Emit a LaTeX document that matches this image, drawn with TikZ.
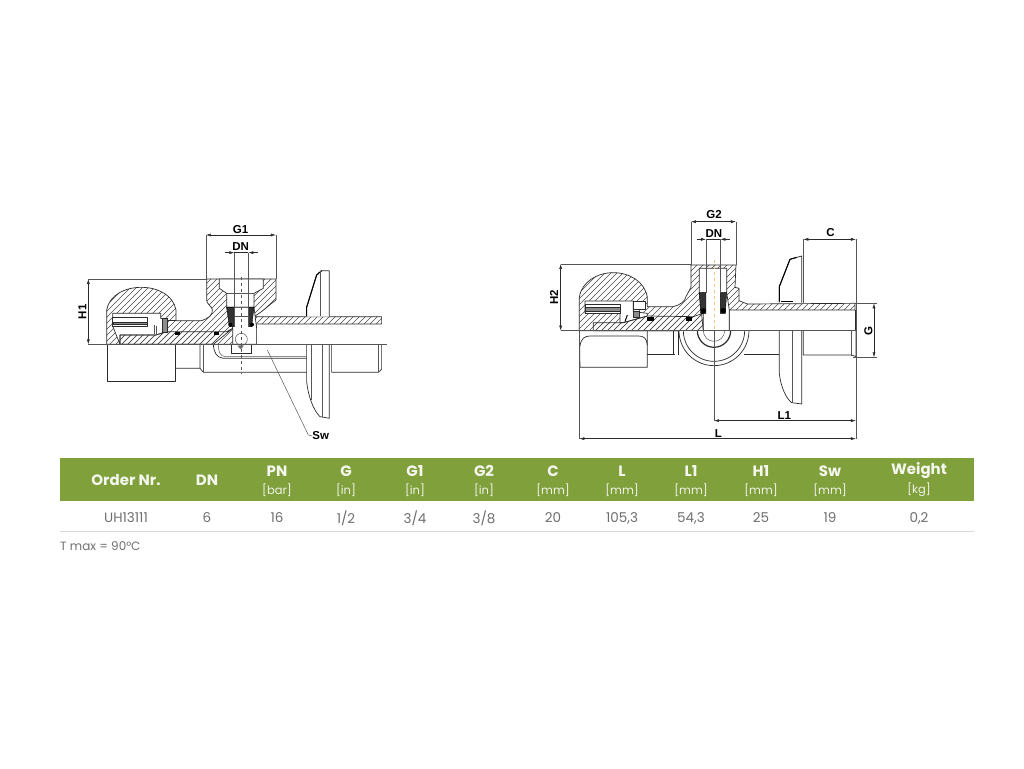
\documentclass[tikz,border=0pt]{standalone}
\usepackage{fontspec}
\setmainfont{Poppins}
\newfontfamily\drawfont{Liberation Sans}
\usetikzlibrary{arrows.meta}
\definecolor{headgreen}{HTML}{7FA03B}
\definecolor{rowgrey}{HTML}{6E6E6E}
\definecolor{inkgrey}{HTML}{2B2B2B}
\tikzset{
	zoomleft/.style={shift={(50,200)}, x=0.3333pt, y=-0.3333pt},
	zoomright/.style={shift={(540,200)}, x=0.3333pt, y=-0.3333pt},
	outline/.style={draw=inkgrey, line width=0.7pt, line join=round},
	hatchline/.style={draw=inkgrey!85, line width=0.5pt},
	cutout/.style={outline, fill=white},
	sealpart/.style={draw=black, fill=black!80},
	greypart/.style={draw=inkgrey, fill=black!45, line width=0.3pt},
	thinline/.style={draw=inkgrey!80, line width=0.5pt},
	dimline/.style={draw=inkgrey, line width=0.5pt, {Latex[length=5pt, width=3pt]}-{Latex[length=5pt, width=3pt]}},
	oneway/.style={draw=inkgrey, line width=0.5pt, -{Latex[length=5pt, width=3pt]}},
	dimlabel/.style={font=\drawfont\bfseries\fontsize{11.5}{13}\selectfont, text=black, inner sep=0pt},
	headmain/.style={font=\bfseries\fontsize{15}{17}\selectfont, text=white!92!headgreen, inner sep=0pt},
	headunit/.style={font=\fontsize{11.5}{13}\selectfont, text=white!88!headgreen, inner sep=0pt},
	rowvalue/.style={font=\fontsize{13.5}{15}\selectfont, text=rowgrey, inner sep=0pt},
}
\newcommand{\hatchshape}[1]{%
	\begin{scope}
		\clip #1;
		\foreach \k in {-800,-782,...,1100}
			\draw[hatchline] (\k,800) -- (\k+800,0);
	\end{scope}
	\draw[outline] #1;
}
\begin{document}
\begin{tikzpicture}[x=1pt, y=-1pt]
	\useasboundingbox (0,0) rectangle (1024,768);
	% left valve
	\begin{scope}[zoomleft]
		\hatchshape{(170,433) -- (170,330) .. controls (178,285) and (225,262) .. (274,262) .. controls (323,262) and (370,285) .. (378,330) -- (378,362) -- (455,362) .. controls (475,355) and (490,345) .. (487,328) .. controls (482,315) and (470,312) .. (470,300) -- (470,237) -- (678,237) -- (678,300) .. controls (660,312) and (645,330) .. (612,350) -- (995,350) -- (995,372) -- (620,372) -- (620,433) -- cycle}
		\draw[cutout] (508,237) -- (640,237) -- (640,265) -- (612,280) -- (612,322) -- (530,322) -- (530,280) -- (508,265) -- cycle;
		\draw[cutout] (548,385) -- (530,322) -- (612,322) -- (620,385) -- (620,433) -- (548,433) -- cycle;
		\draw[thinline] (530,280) -- (612,280);
		\draw[cutout] (188,340) -- (332,340) -- (332,355) -- (350,362) -- (350,395) -- (318,405) -- (210,405) -- (210,433) -- (188,378) -- cycle;
		\hatchshape{(210,433) -- (210,405) -- (318,405) -- (350,395) -- (530,395) -- (548,385) -- (490,433) -- cycle}
		\draw[outline] (350,362) -- (378,362);
		\draw[cutout] (188,352) rectangle (292,378);
		\fill[greypart] (188,365) rectangle (292,372);
		\fill[greypart] (335,355) rectangle (350,395);
		\draw[thinline] (312,375) -- (312,402) (318,378) -- (318,402);
		\draw[sealpart] (530,322) -- (552,322) -- (552,380) -- (538,380) -- cycle;
		\draw[sealpart] (612,322) -- (595,322) -- (595,380) -- (605,380) -- cycle;
		\fill[black] (541,374) circle (6) (606,374) circle (6);
		\fill[black] (376,395) rectangle (391,406);
		\fill[black] (491,395) rectangle (506,406);
		\draw[thinline] (553,322) -- (553,380) (595,322) -- (595,380) (553,350) -- (595,350);
		\draw[thinline] (574,418) circle (18);
		% lower half
		\draw[outline] (172,433) -- (172,545) -- (376,545) -- (376,433);
		\draw[outline] (378,505) -- (450,505) (450,433) -- (450,505) -- (460,517) -- (770,517);
		\draw[thinline] (460,433) -- (460,517);
		\draw[outline] (490,433) .. controls (492,460) and (500,472) .. (520,475) -- (770,475);
		\draw[thinline] (505,433) .. controls (505,455) and (510,468) .. (525,470) -- (770,470);
		\draw[outline] (545,433) -- (545,460) -- (603,460) -- (603,433);
		\fill[inkgrey!70] (562,437) -- (582,437) -- (572,448) -- cycle;
		\draw[outline] (770,433) -- (770,545) .. controls (775,590) and (790,630) .. (810,650) -- (838,655) -- (838,433);
		\draw[thinline] (785,433) -- (785,600) (818,433) -- (818,650);
		\draw[outline] (845,433) -- (845,517) -- (985,517) -- (995,508) -- (995,433);
		\draw[thinline] (985,433) -- (985,517);
		% plate above the tube
		\draw[outline, fill=white] (770,350) -- (770,322) -- (800,225) -- (815,212) -- (838,212) -- (838,350);
		\draw[black, line width=1.1pt] (770,348) -- (770,322) -- (800,225) -- (815,212);
		\draw[thinline] (810,214) -- (810,348);
		% axes
		\coordinate (leftaxisstart) at (115,433);
		\coordinate (leftaxisend) at (1010,433);
		\draw[thinline] (leftaxisstart) -- (leftaxisend);
		\draw[thinline, dashed] (574,230) -- (574,522);
		% dimensions
		\coordinate (g1a) at (468,105);
		\coordinate (g1b) at (678,105);
		\draw[dimline] (g1a) -- (g1b);
		\draw[thinline] (g1a) -- (468,237) (g1b) -- (678,237);
		\node[dimlabel] (g1label) at (572,88) {G1};
		\coordinate (dnleft) at (553,158);
		\coordinate (dnright) at (595,158);
		\draw[oneway] (524,158) -- (dnleft);
		\draw[oneway] (623,158) -- (dnright);
		\draw[thinline] (dnleft) -- (553,322) (dnright) -- (595,322);
		\draw[inkgrey, line width=0.5pt] (dnleft) -- (dnright);
		\node[dimlabel] (dnlabel) at (572,140) {DN};
		\coordinate (h1top) at (115,237);
		\coordinate (h1bot) at (115,433);
		\draw[dimline] (h1top) -- (h1bot);
		\draw[thinline] (h1top) -- (470,237);
		\node[dimlabel, rotate=90] (h1label) at (97,335) {H1};
		\node[dimlabel] (swlabel) at (812,708) {Sw};
		\coordinate (swfoot) at (652,450);
		\draw[thinline] (swfoot) -- (775,705) -- (swlabel.west);
	\end{scope}
	% right valve
	\begin{scope}[zoomright]
		\hatchshape{(118,392) -- (118,292) .. controls (125,245) and (172,218) .. (220,218) .. controls (268,218) and (315,245) .. (322,292) -- (322,320) -- (400,320) .. controls (420,315) and (435,305) .. (438,290) -- (453,262) -- (453,195) -- (588,195) -- (585,262) -- (597,265) -- (597,302) -- (622,312) -- (945,310) -- (945,330) -- (568,330) -- (568,392) -- cycle}
		\draw[cutout] (478,205) -- (560,205) -- (560,278) -- (568,330) -- (568,392) -- (490,392) -- (478,278) -- cycle;
		\draw[cutout] (135,303) -- (280,303) -- (280,335) -- (322,340) -- (322,348) -- (250,368) -- (240,368) -- (240,340) -- (135,340) -- cycle;
		\hatchshape{(160,392) -- (160,368) -- (250,368) -- (322,348) -- (460,350) -- (490,340) -- (490,392) -- cycle}
		\draw[cutout] (135,312) rectangle (240,340);
		\fill[greypart] (135,322) rectangle (240,333);
		\fill[greypart] (280,332) rectangle (298,350);
		\draw[cutout] (280,305) rectangle (316,328);
		\draw[sealpart] (478,278) -- (498,278) -- (498,340) -- (482,340) -- cycle;
		\draw[sealpart] (560,278) -- (541,278) -- (541,340) -- (556,340) -- cycle;
		\fill[black] (490,332) circle (8) (550,332) circle (8);
		\fill[black] (322,352) rectangle (342,364);
		\fill[black] (438,352) rectangle (456,364);
		\draw[black, line width=1pt] (262,345) -- (255,365);
		\draw[thinline] (498,205) -- (498,278) (541,205) -- (541,278);
		% lower half
		\draw[outline] (118,392) -- (120,502) -- (322,502) -- (322,392);
		\draw[outline] (120,440) .. controls (122,415) and (135,408) .. (150,408) -- (295,408) .. controls (312,408) and (320,415) .. (322,435);
		\draw[outline] (322,462) -- (405,462) (400,392) -- (400,462) (415,392) -- (415,465);
		\draw[outline, fill=white] (417,392) arc[start angle=180, end angle=0, radius=105];
		\draw[outline] (430,392) arc[start angle=180, end angle=0, radius=92];
		\draw[inkgrey, line width=1.2pt] (472,392) arc[start angle=180, end angle=0, radius=50];
		\draw[thinline] (490,392) arc[start angle=180, end angle=0, radius=32];
		\draw[outline] (612,462) -- (718,462);
		\draw[outline] (718,392) -- (718,520) .. controls (722,560) and (738,595) .. (755,608) -- (785,612) -- (785,392);
		\draw[thinline] (758,392) -- (758,608);
		\draw[outline] (790,392) -- (790,465) -- (935,465) -- (948,470) -- (948,392);
		\draw[thinline] (935,392) -- (935,468);
		% plate above the tube
		\draw[outline, fill=white] (718,308) -- (718,260) -- (750,178) -- (785,168) -- (785,308);
		\draw[black, line width=1.1pt] (718,305) -- (718,260) -- (750,178) -- (770,172);
		\draw[black, line width=1.1pt] (722,305) -- (760,305);
		\draw[outline] (945,330) -- (945,392);
		% axes
		\coordinate (rightaxisstart) at (108,392);
		\coordinate (rightaxisend) at (948,392);
		\draw[thinline] (rightaxisstart) -- (rightaxisend);
		\draw[draw=orange!50, line width=0.5pt, dashed] (522,180) -- (522,392);
		% dimensions
		\coordinate (g2a) at (453,65);
		\coordinate (g2b) at (588,65);
		\draw[dimline] (g2a) -- (g2b);
		\draw[thinline] (g2a) -- (453,195) (g2b) -- (588,195);
		\node[dimlabel] (g2label) at (522,45) {G2};
		\coordinate (dnleftb) at (498,118);
		\coordinate (dnrightb) at (541,118);
		\draw[oneway] (470,118) -- (dnleftb);
		\draw[oneway] (570,118) -- (dnrightb);
		\draw[inkgrey, line width=0.5pt] (dnleftb) -- (dnrightb);
		\draw[thinline] (dnleftb) -- (498,205) (dnrightb) -- (541,205);
		\node[dimlabel] (dnlabelb) at (522,100) {DN};
		\coordinate (ca) at (790,118);
		\coordinate (cb) at (948,118);
		\draw[dimline] (ca) -- (cb);
		\draw[thinline] (ca) -- (790,308) (cb) -- (948,392);
		\node[dimlabel] (clabel) at (872,98) {C};
		\coordinate (gtop) at (1002,310);
		\coordinate (gbot) at (1002,472);
		\draw[dimline] (gtop) -- (gbot);
		\draw[thinline] (945,310) -- (1010,310) (940,472) -- (1010,472);
		\node[dimlabel, rotate=90] (glabel) at (985,392) {G};
		\coordinate (h2top) at (62,192);
		\coordinate (h2bot) at (62,392);
		\draw[dimline] (h2top) -- (h2bot);
		\draw[thinline] (h2top) -- (453,192) (h2bot) -- (108,392);
		\node[dimlabel, rotate=90] (h2label) at (42,292) {H2};
		\coordinate (l1a) at (522,662);
		\coordinate (l1b) at (948,662);
		\draw[dimline] (l1a) -- (l1b);
		\draw[thinline] (522,392) -- (l1a);
		\node[dimlabel] (l1label) at (733,647) {L1};
		\coordinate (la) at (118,716);
		\coordinate (lb) at (948,716);
		\draw[dimline] (la) -- (lb);
		\draw[thinline] (118,392) -- (la) (948,392) -- (lb);
		\node[dimlabel] (llabel) at (535,700) {L};
	\end{scope}
	% table
	\node[fill=headgreen, minimum width=914pt, minimum height=43pt, anchor=north west, inner sep=0pt] (headband) at (60,458) {};
	\foreach \x/\main/\unit/\val [count=\i] in {207/DN//6, 277/PN/{[bar]}/16, 346/G/{[in]}/{1/2}, 415/G1/{[in]}/{3/4}, 484/G2/{[in]}/{3/8}, 553/C/{[mm]}/20, 622/L/{[mm]}/{105,3}, 691/L1/{[mm]}/{54,3}, 761/H1/{[mm]}/25, 830/Sw/{[mm]}/19, 919/Weight/{[kg]}/{0,2}} {
		\ifnum\i=1
			\node[headmain] (head\i) at (\x,480) {\main};
		\else
			\node[headmain] (head\i) at (\x,471) {\main};
			\node[headunit] (unit\i) at (\x,490) {\unit};
		\fi
		\node[rowvalue] (val\i) at (\x,518) {\val};
	}
	\node[headmain] (headorder) at (126,480) {Order Nr.};
	\node[rowvalue] (valorder) at (126,518) {UH13111};
	\coordinate (rulestart) at (60,531.5);
	\coordinate (ruleend) at (974,531.5);
	\draw[black!15, line width=0.7pt] (rulestart) -- (ruleend);
	\node[rowvalue, anchor=west, font=\fontsize{12}{14}\selectfont] (tmax) at (60,546.5) {T max = 90°C};
\end{tikzpicture}
\end{document}
